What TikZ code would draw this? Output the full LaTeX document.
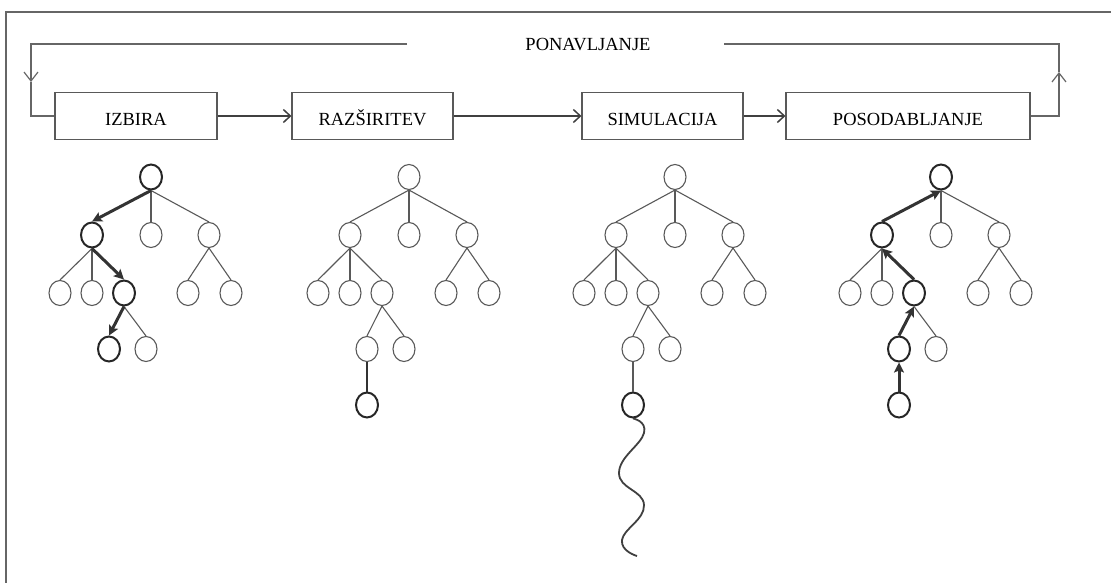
\documentclass[tikz,border=0pt]{standalone}
\usepackage{fontspec}
\setmainfont{Liberation Serif}
\usetikzlibrary{shapes.geometric,arrows.meta}

\begin{document}
\begin{tikzpicture} [x=1pt, y=-1pt,
                    box_style/.style={draw=black!65, line width=1.1pt, minimum height=47pt, inner sep=0pt,
                                      font=\fontsize{18.5}{20}\selectfont, text height=20pt, text depth=0pt},
                    leaf_style/.style={ellipse, draw=black!65, line width=1.1pt, minimum width=22pt,
                                       minimum height=25pt, inner sep=0pt},
                    hot_style/.style={leaf_style, draw=black!85, line width=2pt},
                    edge_style/.style={draw=black!65, line width=1.1pt},
                    walk_style/.style={draw=black!80, line width=3pt, -{Stealth[length=10pt,width=10pt,inset=2pt]}},
                    flow_style/.style={draw=black!75, line width=1.5pt, -{Straight Barb[length=7pt,width=13pt]}},
                    loop_style/.style={draw=black!60, line width=1.2pt}]
                    \useasboundingbox (0,0) rectangle (1111,583);
                    % frame
                    \draw[black!60, line width=1.2pt] (1111,12) -| (6,583);
                    % phases
                    \node[box_style, minimum width=162pt] (izbira) at (136,116) {IZBIRA};
                    \node[box_style, minimum width=161pt] (razsiritev) at (372.5,116) {RAZŠIRITEV};
                    \node[box_style, minimum width=161pt] (simulacija) at (662.5,116) {SIMULACIJA};
                    \node[box_style, minimum width=244pt] (posodabljanje) at (908,116) {POSODABLJANJE};
                    \node[inner sep=0pt, font=\fontsize{18.5}{20}\selectfont,
                          text height=12.4pt, text depth=0pt] (ponavljanje) at (588,44) {PONAVLJANJE};
                    \draw[flow_style] (izbira) -- (razsiritev);
                    \draw[flow_style] (razsiritev) -- (simulacija);
                    \draw[flow_style] (simulacija) -- (posodabljanje);
                    % loop back
                    \coordinate (pl) at (407,44);
                    \coordinate (pr) at (724,44);
                    \coordinate (l1) at (31,82);
                    \coordinate (r1) at (1059,72);
                    \draw[loop_style, -{Straight Barb[length=9pt,width=14pt]}] (pl) -| (l1);
                    \draw[loop_style] (l1) |- (izbira.west);
                    \draw[loop_style, -{Straight Barb[length=9pt,width=14pt]}] (posodabljanje.east) -| (r1);
                    \draw[loop_style] (r1) |- (pr);
                    % trees
                    \foreach \t/\dx/\s in {1/0/hot_style, 2/258/leaf_style, 3/524/leaf_style, 4/790/hot_style}{
                        \begin{scope}[xshift=\dx]
                        \node[\s] (t\t-r) at (151,177) {};
                        \node[\s] (t\t-a) at (92,235) {};
                        \node[leaf_style] (t\t-b) at (151,235) {};
                        \node[leaf_style] (t\t-c) at (209,235) {};
                        \node[leaf_style] (t\t-a1) at (60,293) {};
                        \node[leaf_style] (t\t-a2) at (92,293) {};
                        \node[\s] (t\t-a3) at (124,293) {};
                        \node[leaf_style] (t\t-c1) at (188,293) {};
                        \node[leaf_style] (t\t-c2) at (231,293) {};
                        \node[\s] (t\t-a31) at (109,349) {};
                        \node[leaf_style] (t\t-a32) at (146,349) {};
                        \draw[edge_style] (t\t-r.south) -- (t\t-b.north);
                        \draw[edge_style] (t\t-r.south) -- (t\t-c.north);
                        \draw[edge_style] (t\t-a.south) -- (t\t-a1.north);
                        \draw[edge_style] (t\t-a.south) -- (t\t-a2.north);
                        \draw[edge_style] (t\t-a3.south) -- (t\t-a32.north);
                        \draw[edge_style] (t\t-c.south) -- (t\t-c1.north);
                        \draw[edge_style] (t\t-c.south) -- (t\t-c2.north);
                        \end{scope}
                    }
                    \foreach \t/\dx in {2/258, 3/524, 4/790}
                        \node[hot_style] (t\t-a311) at ({109+\dx},405) {};
                    % selection
                    \draw[walk_style] (t1-r.south) -- (t1-a.north);
                    \draw[walk_style] (t1-a.south) -- (t1-a3.north);
                    \draw[walk_style] (t1-a3.south) -- (t1-a31.north);
                    % expansion, simulation
                    \foreach \t in {2,3}{
                        \draw[edge_style] (t\t-r.south) -- (t\t-a.north);
                        \draw[edge_style] (t\t-a.south) -- (t\t-a3.north);
                        \draw[edge_style] (t\t-a3.south) -- (t\t-a31.north);
                    }
                    \draw[edge_style, draw=black!80, line width=1.6pt] (t2-a31.south) -- (t2-a311.north);
                    \draw[edge_style] (t3-a31.south) -- (t3-a311.north);
                    \draw[black!75, line width=1.8pt] plot[smooth, tension=0.8] coordinates
                        {(t3-a311.south) (644,433) (619,473) (644,505) (622,540) (637,556)};
                    % backup
                    \draw[walk_style] (t4-a311.north) -- (t4-a31.south);
                    \draw[walk_style] (t4-a31.north) -- (t4-a3.south);
                    \draw[walk_style] (t4-a3.north) -- (t4-a.south);
                    \draw[walk_style] (t4-a.north) -- (t4-r.south);
                \end{tikzpicture}
\end{document}
